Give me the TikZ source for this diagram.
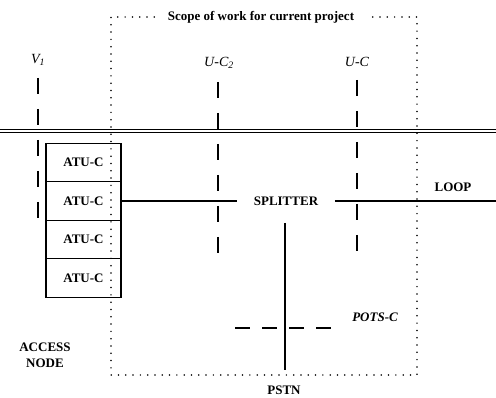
\documentclass[tikz,border=0pt]{standalone}
\usepackage{fontspec}
\setmainfont{Liberation Serif}
\usetikzlibrary{positioning}

\begin{document}
\begin{tikzpicture}[x=1pt, y=-1pt, line width=1.2pt,
        every node/.style={font=\fontsize{13}{16}\selectfont\bfseries},
        atubox/.style={draw, minimum width=75pt, minimum height=38.5pt, inner sep=0pt, outer sep=0pt},
        scopeline/.style={line width=1.7pt, line cap=round, dash pattern=on 0pt off 7.3pt},
        iface/.style={dash pattern=on 16pt off 15pt},
        potsline/.style={dash pattern=on 15pt off 12pt}]
        \useasboundingbox (0,0) rectangle (496,398);
        % Define the nodes
        \node[inner xsep=13pt] (scope) at (261,17) {Scope of work for current project};
        \node[font=\fontsize{14}{16}\selectfont\itshape] (v1) at (38,60) {V\textsubscript{1}};
        \node[font=\fontsize{14}{16}\selectfont\itshape] (uc2) at (219,63) {U-C\textsubscript{2}};
        \node[font=\fontsize{14}{16}\selectfont\itshape] (uc) at (357,62) {U-C};
        \node[atubox] (atu1) at (83.5,162.5) {ATU-C};
        \node[atubox] (atu2) [below=0pt of atu1] {ATU-C};
        \node[atubox] (atu3) [below=0pt of atu2] {ATU-C};
        \node[atubox] (atu4) [below=0pt of atu3] {ATU-C};
        \node[inner xsep=16pt] (splitter) at (286,201) {SPLITTER};
        \node (loop) at (453,187) {LOOP};
        \node (pstn) at (284,390) {PSTN};
        \node[font=\fontsize{13}{16}\selectfont\bfseries\itshape] (pots) at (375,317) {POTS-C};
        \node[align=center, inner sep=0pt] (access) at (45,355) {ACCESS\\NODE};
        % Define the coordinates
        \coordinate (busl) at (0,131);
        \coordinate (busr) at (496,131);
        \coordinate (loopend) at (496,201);
        \coordinate (pstntop) at (285,223);
        \coordinate (pstnend) at (285,370);
        \coordinate (v1top) at (38,78);
        \coordinate (v1end) at (38,219);
        \coordinate (uc2top) at (218,82);
        \coordinate (uc2end) at (218,253);
        \coordinate (uctop) at (357,80);
        \coordinate (ucend) at (357,256);
        \coordinate (potsl) at (235,328);
        \coordinate (potsr) at (332,328);
        % Scope of work
        \draw[scopeline] (scope.west) -- (111,17) -- (111,375) -- (417,375) -- (417,17) -- (scope.east);
        % Lines
        \draw[double, double distance=2.3pt] (busl) -- (busr);
        \draw (atu2.east) -- (splitter.west);
        \draw (splitter.east) -- (loopend);
        \draw (pstntop) -- (pstnend);
        % Interfaces
        \draw[iface] (v1top) -- (v1end);
        \draw[iface] (uc2top) -- (uc2end);
        \draw[iface] (uctop) -- (ucend);
        \draw[potsline] (potsl) -- (potsr);
    \end{tikzpicture}
\end{document}
